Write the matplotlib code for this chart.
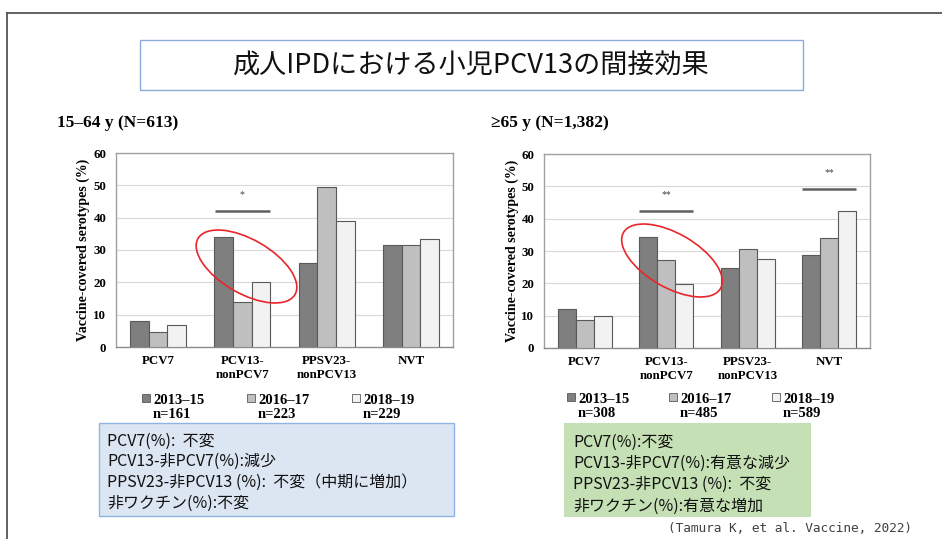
import matplotlib
matplotlib.use("Agg")
import matplotlib.pyplot as plt
from matplotlib.patches import Rectangle, Ellipse
from matplotlib.lines import Line2D
from matplotlib.transforms import Affine2D
import numpy as np

# ---------------- data ----------------
categories = ["PCV7", "PCV13-\nnonPCV7", "PPSV23-\nnonPCV13", "NVT"]
periods = ["2013–15", "2016–17", "2018–19"]

young_title = "15–64 y (N=613)"
young_n = [161, 223, 229]
young_2013_15 = [7.9, 33.9, 25.9, 31.7]
young_2016_17 = [4.6, 13.9, 49.6, 31.7]
young_2018_19 = [6.8, 20.0, 39.1, 33.5]
young_sig = [(1, 42.1, "*")]

old_title = "≥65 y (N=1,382)"
old_n = [308, 485, 589]
old_2013_15 = [12.0, 34.3, 24.6, 28.9]
old_2016_17 = [8.7, 27.2, 30.5, 33.9]
old_2018_19 = [9.8, 19.9, 27.6, 42.3]
old_sig = [(1, 42.5, "**"), (3, 49.2, "**")]

yticks = [0, 10, 20, 30, 40, 50, 60]

main_title = "成人IPDにおける小児PCV13の間接効果"
young_notes = ["PCV7(%):  不変",
               "PCV13-非PCV7(%):減少",
               "PPSV23-非PCV13 (%):  不変（中期に増加）",
               "非ワクチン(%):不変"]
old_notes = ["PCV7(%):不変",
             "PCV13-非PCV7(%):有意な減少",
             "PPSV23-非PCV13 (%):  不変",
             "非ワクチン(%):有意な増加"]
citation = "(Tamura K, et al. Vaccine, 2022)"

# ---------------- style ----------------
bar_colors = ["#7f7f7f", "#bfbfbf", "#f2f2f2"]
SERIF = ['Liberation Serif', 'DejaVu Serif']
JP = ['Noto Sans CJK JP', 'DejaVu Sans']

W, H = 942, 539
fig = plt.figure(figsize=(W / 100, H / 100), dpi=100)
# pixel coordinates with origin at top-left
T = Affine2D().scale(1 / W, -1 / H).translate(0, 1) + fig.transFigure

# outer frame (top + left)
fig.add_artist(Line2D([7, W], [13, 13], transform=T, color="#555555", lw=1.3))
fig.add_artist(Line2D([7, 7], [13, H], transform=T, color="#555555", lw=1.3))

# title box
fig.add_artist(Rectangle((140, 40), 663, 50, transform=T, facecolor="white",
                         edgecolor="#8eaadb", lw=1.0))
fig.text(471, 66, main_title, transform=T, ha="center", va="center",
         fontsize=19.5, family=JP, color="#111111")

panels = [
    dict(title=young_title, title_xy=(57, 123), rect=(116, 153, 453, 347),
         vals=[young_2013_15, young_2016_17, young_2018_19], n=young_n,
         sig=young_sig, ylab_x=83, leg_x=[142, 247, 352], leg_y=398,
         ell=(246.5, 266.5)),
    dict(title=old_title, title_xy=(491, 123), rect=(544, 154, 870, 348),
         vals=[old_2013_15, old_2016_17, old_2018_19], n=old_n,
         sig=old_sig, ylab_x=512, leg_x=[567, 669, 772], leg_y=397,
         ell=(672, 260.5)),
]

x = np.arange(len(categories))
bw = 0.222
for p in panels:
    l, t, r, b = p["rect"]
    ax = fig.add_axes([l / W, 1 - b / H, (r - l) / W, (b - t) / H])
    for i, (vals, c) in enumerate(zip(p["vals"], bar_colors)):
        ax.bar(x + (i - 1) * bw, vals, width=bw, color=c, edgecolor="#595959",
               linewidth=0.8, zorder=3)
    ax.set_xlim(-0.5, len(categories) - 0.5)
    ax.set_ylim(0, 60)
    ax.set_yticks(yticks)
    ax.set_xticks(x)
    ax.set_xticklabels(categories, fontsize=9.3, fontweight="bold",
                       family=SERIF, linespacing=1.2)
    ax.set_yticklabels([str(v) for v in yticks], fontsize=9.3,
                       fontweight="bold", family=SERIF)
    ax.tick_params(axis="both", length=0)
    ax.tick_params(axis="x", pad=6)
    ax.tick_params(axis="y", pad=7)
    ax.grid(axis="y", color="#d9d9d9", lw=0.8, zorder=0)
    for s in ax.spines.values():
        s.set_color("#a0a0a0")
        s.set_linewidth(1.0)
    ax.spines["bottom"].set_color("#8c8c8c")
    for (ci, yv, star) in p["sig"]:
        ax.plot([ci - 0.33, ci + 0.33], [yv, yv], color="#606060", lw=1.8,
                zorder=4, solid_capstyle="butt")
        ax.text(ci, yv + 5.0, star, ha="center", va="center", fontsize=7,
                family=SERIF, color="#404040")

    fig.text(p["title_xy"][0], p["title_xy"][1], p["title"], transform=T,
             ha="left", va="center", fontsize=12.5, fontweight="bold",
             family=SERIF)
    fig.text(p["ylab_x"], (t + b) / 2, "Vaccine-covered serotypes (%)",
             transform=T, rotation=90, ha="center", va="center",
             fontsize=10, fontweight="bold", family=SERIF)

    # legend
    for lx, per, n, c in zip(p["leg_x"], periods, p["n"], bar_colors):
        fig.add_artist(Rectangle((lx, p["leg_y"] - 4), 8, 8, transform=T,
                                 facecolor=c, edgecolor="#595959", lw=0.6))
        fig.text(lx + 11, p["leg_y"] - 4, f"{per}\nn={n}", transform=T,
                 ha="left", va="top", fontsize=10.5, fontweight="bold",
                 family=SERIF, linespacing=1.1)
    # red ellipse highlight
    cx, cy = p["ell"]
    fig.add_artist(Ellipse((cx, cy), 112, 54, angle=30, transform=T,
                           facecolor="none", edgecolor="#e8262a", lw=1.2))

# note boxes
fig.add_artist(Rectangle((99, 423), 355, 93, transform=T, facecolor="#dce6f2",
                         edgecolor="#8eb4e3", lw=1.0))
for yy, s in zip([441, 461, 482, 503], young_notes):
    fig.text(107, yy, s, transform=T, ha="left", va="center", fontsize=11.5,
             family=JP, color="#111111")

fig.add_artist(Rectangle((564, 423), 247, 94, transform=T, facecolor="#c5e0b4",
                         edgecolor="none"))
for yy, s in zip([442, 463, 484, 506], old_notes):
    fig.text(573, yy, s, transform=T, ha="left", va="center", fontsize=11.5,
             family=JP, color="#111111")

fig.text(912, 528, citation, transform=T, ha="right", va="center",
         fontsize=9.2, family=['DejaVu Sans Mono'], color="#404040")

fig.savefig("out.png", dpi=100)
